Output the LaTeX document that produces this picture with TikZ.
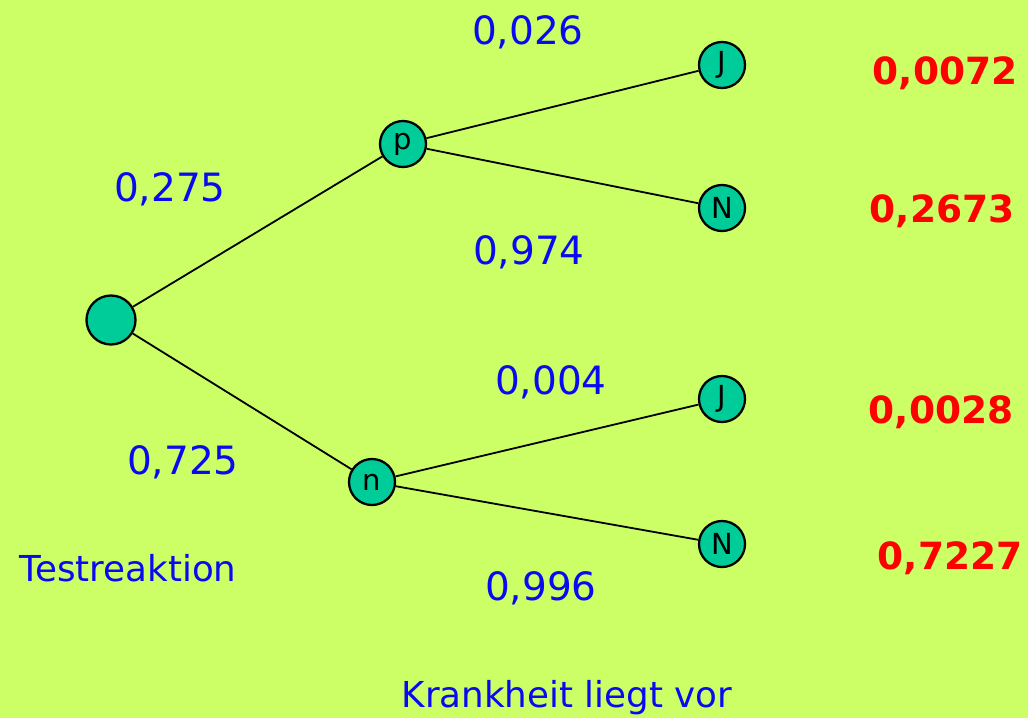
\documentclass[tikz,border=0pt]{standalone}
\usepackage{fontspec}
\setmainfont{DejaVu Sans}
\definecolor{bg}{HTML}{CCFF66}
\definecolor{nodefill}{HTML}{00CC99}
\definecolor{probblue}{HTML}{0A0AF0}
\definecolor{resred}{HTML}{FF0000}
\begin{document}
\begin{tikzpicture}[x=1pt,y=-1pt,
  state/.style={circle,draw=black,line width=2.3pt,fill=nodefill,inner sep=0pt,
    minimum size=46pt,font=\fontsize{29}{32}\selectfont},
  rootstate/.style={state,minimum size=49pt},
  edge/.style={line width=1.8pt,black},
  prob/.style={anchor=base,text=probblue,font=\fontsize{39}{44}\selectfont},
  result/.style={anchor=base,text=resred,font=\fontsize{37.5}{42}\selectfont\bfseries},
  caption/.style={anchor=base,text=probblue,font=\fontsize{35.7}{40}\selectfont}]
  % canvas
  \fill[bg] (0,0) rectangle (1028,718);
  \useasboundingbox (0,0) rectangle (1028,718);

  % tree nodes
  \node[rootstate] (root) at (111,320) {};
  \node[state] (p) at (403,144) {p};
  \node[state] (n) at (372,482) {n};
  \node[state] (pJ) at (722,65) {J};
  \node[state] (pN) at (722,208) {N};
  \node[state] (nJ) at (722,399) {J};
  \node[state] (nN) at (722,544) {N};

  % branches
  \draw[edge] (root) -- (p);
  \draw[edge] (root) -- (n);
  \draw[edge] (p) -- (pJ);
  \draw[edge] (p) -- (pN);
  \draw[edge] (n) -- (nJ);
  \draw[edge] (n) -- (nN);

  % branch probabilities
  \node[prob] (l1) at (170,201) {0,275};
  \node[prob] (l2) at (183,474) {0,725};
  \node[prob] (l3) at (528,44) {0,026};
  \node[prob] (l4) at (529,264) {0,974};
  \node[prob] (l5) at (551,394) {0,004};
  \node[prob] (l6) at (541,600) {0,996};

  % path probabilities
  \node[result] (r1) at (945,84) {0,0072};
  \node[result] (r2) at (942,222) {0,2673};
  \node[result] (r3) at (941,423) {0,0028};
  \node[result] (r4) at (950,569) {0,7227};

  % stage captions
  \node[caption] (c1) at (128,581) {Testreaktion};
  \node[caption] (c2) at (567,707) {Krankheit liegt vor};
\end{tikzpicture}
\end{document}
